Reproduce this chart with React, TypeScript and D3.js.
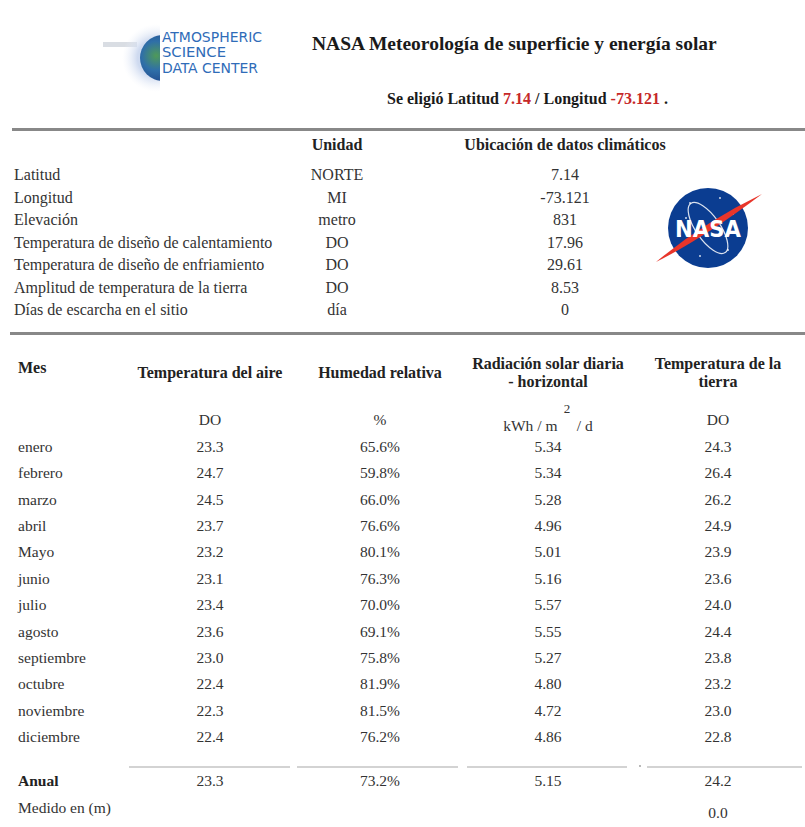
import * as d3 from 'd3'
import { useEffect } from 'react'

// site summary (top table)
const siteLabels = [
  'Latitud',
  'Longitud',
  'Elevación',
  'Temperatura de diseño de calentamiento',
  'Temperatura de diseño de enfriamiento',
  'Amplitud de temperatura de la tierra',
  'Días de escarcha en el sitio',
]
const siteUnits = ['NORTE', 'MI', 'metro', 'DO', 'DO', 'DO', 'día']
const siteValues = ['7.14', '-73.121', '831', '17.96', '29.61', '8.53', '0']

// monthly table
const months = [
  'enero', 'febrero', 'marzo', 'abril', 'Mayo', 'junio',
  'julio', 'agosto', 'septiembre', 'octubre', 'noviembre', 'diciembre',
]
const airTemp = [23.3, 24.7, 24.5, 23.7, 23.2, 23.1, 23.4, 23.6, 23.0, 22.4, 22.3, 22.4]
const humidity = [65.6, 59.8, 66.0, 76.6, 80.1, 76.3, 70.0, 69.1, 75.8, 81.9, 81.5, 76.2]
const radiation = [5.34, 5.34, 5.28, 4.96, 5.01, 5.16, 5.57, 5.55, 5.27, 4.80, 4.72, 4.86]
const earthTemp = [24.3, 26.4, 26.2, 24.9, 23.9, 23.6, 24.0, 24.4, 23.8, 23.2, 23.0, 22.8]
const annual = { air: 23.3, hum: 73.2, rad: 5.15, earth: 24.2 }
const measuredAt = '0.0'

const columns = ['air', 'hum', 'rad', 'earth']

const serif = "'Liberation Serif', 'Times New Roman', serif"
const ink = '#333'

function AsdcLogo() {
  const lines: [string, number, number][] = [
    ['ATMOSPHERIC', 42, 100],
    ['SCIENCE', 57, 64],
    ['DATA CENTER', 73, 96],
  ]
  return (
    <g>
      <defs>
        <radialGradient id="halo" cx="0.5" cy="0.5" r="0.5">
          <stop offset="55%" stopColor="#c9d6ee" stopOpacity="0.9" />
          <stop offset="100%" stopColor="#eef2fa" stopOpacity="0" />
        </radialGradient>
        <radialGradient id="earth" cx="0.35" cy="0.45" r="0.7">
          <stop offset="0%" stopColor="#4f9a58" />
          <stop offset="45%" stopColor="#2f6fa8" />
          <stop offset="100%" stopColor="#1d3f86" />
        </radialGradient>
        <clipPath id="crescent">
          <rect x={100} y={10} width={60} height={100} />
        </clipPath>
      </defs>
      <rect x={103} y={42} width={34} height={5} fill="#d9dde3" />
      <circle cx={156} cy={58} r={34} fill="url(#halo)" clipPath="url(#crescent)" />
      <circle cx={163} cy={58} r={23} fill="url(#earth)" clipPath="url(#crescent)" />
      {lines.map(([t, y, w]) => (
        <text
          key={t}
          x={162}
          y={y}
          fontFamily="Liberation Sans Narrow, DejaVu Sans Condensed, Liberation Sans, sans-serif"
          fontSize={14}
          fill="#2f6cb8"
          textLength={w}
          lengthAdjust="spacingAndGlyphs"
        >
          {t}
        </text>
      ))}
    </g>
  )
}

function NasaLogo({ cx, cy, r }: { cx: number; cy: number; r: number }) {
  const stars = [
    [-18, -25], [12, -30], [25, -14], [-28, 8], [20, 22], [-8, 28], [30, 6], [-22, -10],
  ]
  return (
    <g transform={`translate(${cx},${cy})`}>
      <circle r={r} fill="#0b3d91" />
      {stars.map(([x, y], i) => (
        <circle key={i} cx={x} cy={y} r={1} fill="#fff" opacity={0.8} />
      ))}
      <ellipse rx={12} ry={30} transform="rotate(-35)" fill="none" stroke="#fff" strokeWidth={1.2} opacity={0.85} />
      <path
        d={`M${-r - 12},${r * 0.85} Q ${-r * 0.1},${r * 0.25} ${r + 14},${-r * 0.85} Q ${-r * 0.1},${-r * 0.15} ${-r - 12},${r * 0.85} Z`}
        fill="#e8352a"
      />
      <text
        y={9}
        textAnchor="middle"
        fontFamily="DejaVu Sans, sans-serif"
        fontWeight="bold"
        fontSize={23}
        fill="#fff"
        textLength={66}
        lengthAdjust="spacingAndGlyphs"
      >
        NASA
      </text>
    </g>
  )
}

export default function App() {
  useEffect(() => {
    document.body.style.margin = '0'
  }, [])

  // top table
  const siteY = d3.scalePoint<string>().domain(siteLabels).range([175, 310])
  // monthly table
  const monthY = d3.scalePoint<string>().domain(months).range([447, 737])
  const colX = d3.scaleOrdinal<string, number>().domain(columns).range([210, 380, 548, 718])

  const fmt1 = d3.format('.1f')
  const fmt2 = d3.format('.2f')
  const rowValues = (i: number) => [
    fmt1(airTemp[i]),
    fmt1(humidity[i]) + '%',
    fmt2(radiation[i]),
    fmt1(earthTemp[i]),
  ]
  const annualValues = [fmt1(annual.air), fmt1(annual.hum) + '%', fmt2(annual.rad), fmt1(annual.earth)]

  const sepSegments: [number, number][] = [
    [129, 290],
    [297, 458],
    [467, 627],
    [647, 802],
  ]

  return (
    <svg width={805} height={827} style={{ display: 'block', background: '#fff' }}>
      <AsdcLogo />
      <text x={312} y={50} fontFamily={serif} fontWeight="bold" fontSize={19.5} fill="#1a1a1a">
        NASA Meteorología de superficie y energía solar
      </text>
      <text x={387} y={104} fontFamily={serif} fontWeight="bold" fontSize={16} fill="#1a1a1a">
        Se eligió Latitud <tspan fill="#c62828">7.14</tspan> / Longitud{' '}
        <tspan fill="#c62828">-73.121</tspan> .
      </text>

      {/* rules */}
      <line x1={12} x2={805} y1={129.5} y2={129.5} stroke="#888" strokeWidth={3} />
      <line x1={10} x2={805} y1={333.5} y2={333.5} stroke="#888" strokeWidth={3} />

      {/* site table */}
      <g fontFamily={serif} fontSize={16} fill={ink}>
        <text x={337} y={150} textAnchor="middle" fontWeight="bold" fill="#222">
          Unidad
        </text>
        <text x={565} y={150} textAnchor="middle" fontWeight="bold" fill="#222">
          Ubicación de datos climáticos
        </text>
        {siteLabels.map((l, i) => (
          <g key={l} transform={`translate(0,${siteY(l)! + 5})`}>
            <text x={14}>{l}</text>
            <text x={337} textAnchor="middle">
              {siteUnits[i]}
            </text>
            <text x={565} textAnchor="middle">
              {siteValues[i]}
            </text>
          </g>
        ))}
      </g>
      <NasaLogo cx={708} cy={228} r={40} />

      {/* monthly table header */}
      <g fontFamily={serif} fill="#222" fontWeight="bold" fontSize={16}>
        <text x={18} y={373}>Mes</text>
        <text x={colX('air')} y={378} textAnchor="middle">Temperatura del aire</text>
        <text x={colX('hum')} y={378} textAnchor="middle">Humedad relativa</text>
        <text x={colX('rad')} y={369} textAnchor="middle">Radiación solar diaria</text>
        <text x={colX('rad')} y={387} textAnchor="middle">- horizontal</text>
        <text x={colX('earth')} y={369} textAnchor="middle">Temperatura de la</text>
        <text x={colX('earth')} y={387} textAnchor="middle">tierra</text>
      </g>
      <g fontFamily={serif} fill={ink} fontSize={15.5}>
        <text x={colX('air')} y={425} textAnchor="middle">DO</text>
        <text x={colX('hum')} y={425} textAnchor="middle">%</text>
        <text x={colX('rad')} y={431} textAnchor="middle">kWh / m{'\u2003'} / d</text>
        <text x={567} y={413} textAnchor="middle" fontSize={13}>2</text>
        <text x={colX('earth')} y={425} textAnchor="middle">DO</text>
      </g>

      {/* monthly rows */}
      <g fontFamily={serif} fill={ink} fontSize={15.5}>
        {months.map((m, i) => (
          <g key={m} transform={`translate(0,${monthY(m)! + 5})`}>
            <text x={18}>{m}</text>
            {rowValues(i).map((v, j) => (
              <text key={j} x={colX(columns[j])} textAnchor="middle">
                {v}
              </text>
            ))}
          </g>
        ))}
      </g>

      {/* separator */}
      {sepSegments.map(([a, b], i) => (
        <line key={i} x1={a} x2={b} y1={767} y2={767} stroke="#c4c4c4" strokeWidth={1.5} />
      ))}
      <circle cx={640} cy={766} r={0.9} fill="#999" />

      {/* annual */}
      <g fontFamily={serif} fill={ink} fontSize={15.5}>
        <text x={18} y={786} fontWeight="bold" fill="#222">Anual</text>
        {annualValues.map((v, j) => (
          <text key={j} x={colX(columns[j])} y={786} textAnchor="middle">
            {v}
          </text>
        ))}
        <text x={18} y={813}>Medido en (m)</text>
        <text x={colX('earth')} y={818} textAnchor="middle">{measuredAt}</text>
      </g>
    </svg>
  )
}
